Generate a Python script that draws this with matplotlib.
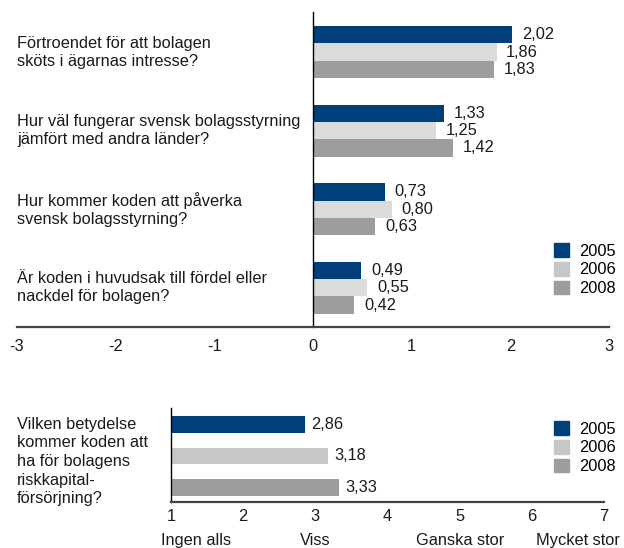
import matplotlib
matplotlib.use('Agg')
import matplotlib.pyplot as plt
import matplotlib.transforms as mtransforms
from matplotlib.patches import Patch

plt.rcParams['font.family'] = ['Liberation Sans', 'DejaVu Sans']
plt.rcParams['axes.unicode_minus'] = False

years = ['2005', '2006', '2008']
questions = [
    'Förtroendet för att bolagen\nsköts i ägarnas intresse?',
    'Hur väl fungerar svensk bolagsstyrning\njämfört med andra länder?',
    'Hur kommer koden att påverka\nsvensk bolagsstyrning?',
    'Är koden i huvudsak till fördel eller\nnackdel för bolagen?',
]
vals_2005 = [2.02, 1.33, 0.73, 0.49]
vals_2006 = [1.86, 1.25, 0.80, 0.55]
vals_2008 = [1.83, 1.42, 0.63, 0.42]

risk_question = 'Vilken betydelse\nkommer koden att\nha för bolagens\nriskkapital-\nförsörjning?'
risk_vals = [2.86, 3.18, 3.33]
scale_ticks = [1, 2, 3, 4, 5, 6, 7]
scale_names = ['Ingen alls', 'Viss', 'Ganska stor', 'Mycket stor']
scale_name_pos = [1.35, 3, 5, 6.64]

top_colors = ['#003f7a', '#dadcdc', '#9d9d9d']
leg_colors = ['#003f7a', '#c6c8c7', '#9d9d9d']
fs = 11.8

def fmt(v):
    return ('%.2f' % v).replace('.', ',')

fig = plt.figure(figsize=(6.24, 5.48), dpi=100)

# --- top chart
ax = fig.add_axes([17/624, 1-327/548, 592/624, 315/548])
h = 0.22
n = len(questions)
for k, vals in enumerate([vals_2005, vals_2006, vals_2008]):
    ys = [n - 1 - i + (1 - k) * h for i in range(n)]
    ax.barh(ys, vals, height=h, color=top_colors[k], zorder=2)
    for y, v in zip(ys, vals):
        ax.annotate(fmt(v), (v, y), xytext=(7, 0), textcoords='offset points',
                    va='center', ha='left', fontsize=fs, color='#1a1a1a')

ax.set_xlim(-3, 3)
ax.set_ylim(-0.5, 3.51)
ax.set_xticks(range(-3, 4))
ax.set_xticklabels([str(t) for t in range(-3, 4)])
ax.set_yticks([])
ax.tick_params(axis='x', length=0, pad=8.5, labelsize=fs, colors='#1a1a1a')
ax.spines['top'].set_visible(False)
ax.spines['right'].set_visible(False)
ax.spines['left'].set_position(('data', 0))
ax.spines['left'].set_color('black')
ax.spines['left'].set_linewidth(1.0)
ax.spines['bottom'].set_color('#444444')
ax.spines['bottom'].set_linewidth(1.6)

trans = mtransforms.blended_transform_factory(fig.transFigure, ax.transData)
for i, q in enumerate(questions):
    ax.text(17/624, n - 1 - i, q, transform=trans, ha='left', va='center',
            fontsize=fs, color='#1a1a1a', linespacing=1.25)

handles = [Patch(color=c) for c in leg_colors]
fig.legend(handles, years, loc='upper left', bbox_to_anchor=(554/624, 1-243/548),
           frameon=False, borderpad=0, borderaxespad=0, handlelength=0.92,
           handleheight=0.92, handletextpad=0.62, labelspacing=0.2, fontsize=fs)

# --- bottom chart
ax2 = fig.add_axes([171/624, 1-502/548, 433/624, 94/548])
ys2 = [2, 1, 0]
ax2.barh(ys2, risk_vals, height=0.52, left=0, color=leg_colors, zorder=2)
for y, v in zip(ys2, risk_vals):
    ax2.annotate(fmt(v), (v, y), xytext=(4.5, 0), textcoords='offset points',
                 va='center', ha='left', fontsize=fs, color='#1a1a1a')
ax2.set_xlim(1, 7)
ax2.set_ylim(-0.46, 2.52)
ax2.set_xticks(scale_ticks)
ax2.set_yticks([])
ax2.tick_params(axis='x', length=0, pad=5, labelsize=fs, colors='#1a1a1a')
ax2.spines['top'].set_visible(False)
ax2.spines['right'].set_visible(False)
ax2.spines['left'].set_color('black')
ax2.spines['left'].set_linewidth(1.0)
ax2.spines['bottom'].set_color('#444444')
ax2.spines['bottom'].set_linewidth(1.6)

for name, x in zip(scale_names, scale_name_pos):
    ax2.annotate(name, (x, 0), xycoords=('data', 'axes fraction'),
                 xytext=(0, -27.5), textcoords='offset points',
                 ha='center', va='center', fontsize=fs, color='#1a1a1a',
                 annotation_clip=False)

trans2 = mtransforms.blended_transform_factory(fig.transFigure, ax2.transAxes)
ax2.text(17/624, 0.43, risk_question, transform=trans2, ha='left', va='center',
         fontsize=fs, color='#1a1a1a', linespacing=1.3)

fig.legend(handles, years, loc='upper left', bbox_to_anchor=(554/624, 1-421/548),
           frameon=False, borderpad=0, borderaxespad=0, handlelength=0.92,
           handleheight=0.92, handletextpad=0.62, labelspacing=0.2, fontsize=fs)

fig.savefig('out.png', dpi=100)
